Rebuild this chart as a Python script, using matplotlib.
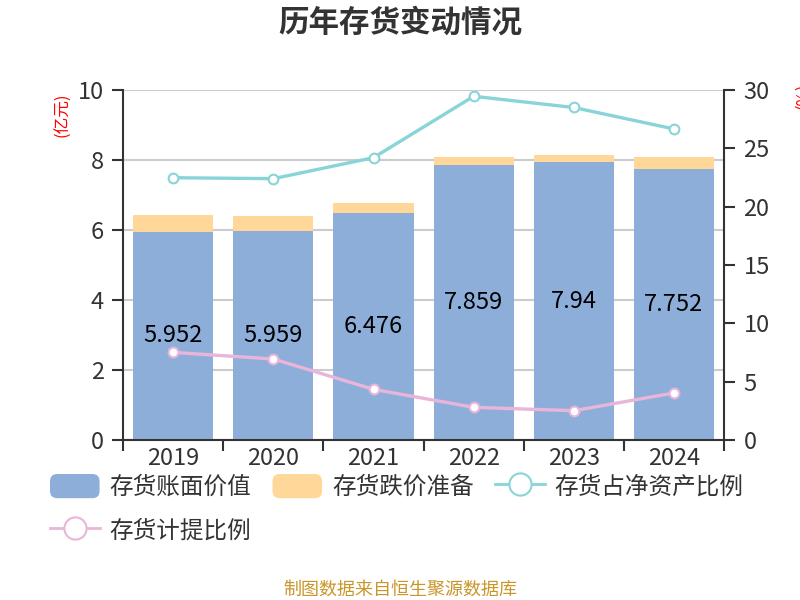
import matplotlib
matplotlib.use("Agg")
import matplotlib.pyplot as plt
from matplotlib.patches import Patch, FancyBboxPatch
from matplotlib.lines import Line2D
from matplotlib.legend_handler import HandlerPatch
import numpy as np

plt.rcParams['font.family'] = ['Noto Sans CJK SC', 'DejaVu Sans']

# data
years = ['2019', '2020', '2021', '2022', '2023', '2024']
book_value = [5.952, 5.959, 6.476, 7.859, 7.94, 7.752]
impairment = [0.48, 0.44, 0.30, 0.23, 0.20, 0.33]
ratio_net_assets = [22.48, 22.40, 24.2, 29.46, 28.5, 26.66]
provision_ratio = [7.51, 6.94, 4.34, 2.80, 2.51, 4.03]

blue = '#8EAEDA'
orange = '#FFD899'
teal = '#88D4D8'
pink = '#E9B5D8'
dark = '#333333'


class RoundPatchHandler(HandlerPatch):
    # rounded legend boxes like the original
    def create_artists(self, legend, orig_handle, xdescent, ydescent,
                       width, height, fontsize, trans):
        p = FancyBboxPatch((-xdescent, -ydescent), width, height,
                           boxstyle='round,pad=0,rounding_size=%f' % (height * 0.3),
                           facecolor=orig_handle.get_facecolor(), edgecolor='none',
                           transform=trans)
        return [p]


fig = plt.figure(figsize=(8, 6), dpi=100)
ax = fig.add_axes([0.154, 0.2667, 0.751, 0.5833])
x = np.arange(len(years))

ax.bar(x, book_value, width=0.8, color=blue, zorder=2)
ax.bar(x, impairment, width=0.8, bottom=book_value, color=orange, zorder=2)
for xi, v in zip(x, book_value):
    ax.text(xi, v / 2, f'{v:g}', ha='center', va='center', fontsize=17, color='black', zorder=4)

ax.set_xlim(-0.5, len(years) - 0.5)
ax.set_ylim(0, 10)
ax.set_yticks(range(0, 11, 2))
ax.set_xticks(np.arange(-0.5, len(years), 1))
ax.set_xticklabels([])
ax.set_xticks(x, minor=True)
ax.set_xticklabels(years, minor=True)
ax.tick_params(axis='x', which='major', length=8, width=1.5, color=dark)
ax.tick_params(axis='x', which='minor', length=0, pad=5, labelsize=17, labelcolor=dark)
ax.tick_params(axis='y', length=8, width=1.5, color=dark, labelsize=17, labelcolor=dark, pad=6)
ax.grid(axis='y', color='#CCCCCC', linewidth=1.5, zorder=0)
ax.set_axisbelow(True)
for s in ['top', 'right']:
    ax.spines[s].set_visible(False)
for s in ['left', 'bottom']:
    ax.spines[s].set_color(dark)
    ax.spines[s].set_linewidth(1.5)

ax2 = ax.twinx()
ax2.set_ylim(0, 30)
ax2.set_yticks(range(0, 31, 5))
ax2.plot(x, ratio_net_assets, color=teal, lw=2.4, marker='o', ms=7,
         mfc='white', mec=teal, mew=1.5, zorder=3)
ax2.plot(x, provision_ratio, color=pink, lw=2.4, marker='o', ms=7,
         mfc='white', mec=pink, mew=1.5, zorder=3)
ax2.tick_params(axis='y', length=8, width=1.5, color=dark, labelsize=17, labelcolor=dark, pad=6)
for s in ['top', 'left', 'bottom']:
    ax2.spines[s].set_visible(False)
ax2.spines['right'].set_color(dark)
ax2.spines['right'].set_linewidth(1.5)

fig.text(0.079, 0.808, '(亿元)', rotation=90, color='red', fontsize=12, ha='center', va='center')
fig.text(1.003, 0.84, '(%)', rotation=90, color='red', fontsize=12, ha='center', va='center')

fig.text(0.5, 0.962, '历年存货变动情况', ha='center', va='center', fontsize=22,
         fontweight='bold', color=dark)
fig.text(0.5, 0.017, '制图数据来自恒生聚源数据库', ha='center', va='center', fontsize=13,
         color='#C9962B')

handles = [
    Patch(facecolor=blue, label='存货账面价值'),
    Line2D([], [], color=pink, lw=2, marker='o', ms=16, mfc='white', mec=pink, mew=1.5,
           label='存货计提比例'),
    Patch(facecolor=orange, label='存货跌价准备'),
    Line2D([], [], color=teal, lw=2, marker='o', ms=16, mfc='white', mec=teal, mew=1.5,
           label='存货占净资产比例'),
]
fig.legend(handles=handles, ncol=3, loc='upper left', bbox_to_anchor=(0.0625, 0.21),
           frameon=False, fontsize=17, handlelength=2.1, handleheight=1.2,
           handletextpad=0.42, columnspacing=0.9, labelspacing=0.8,
           borderaxespad=0, borderpad=0, labelcolor=dark,
           handler_map={Patch: RoundPatchHandler()})

fig.savefig('out.png', dpi=100)
